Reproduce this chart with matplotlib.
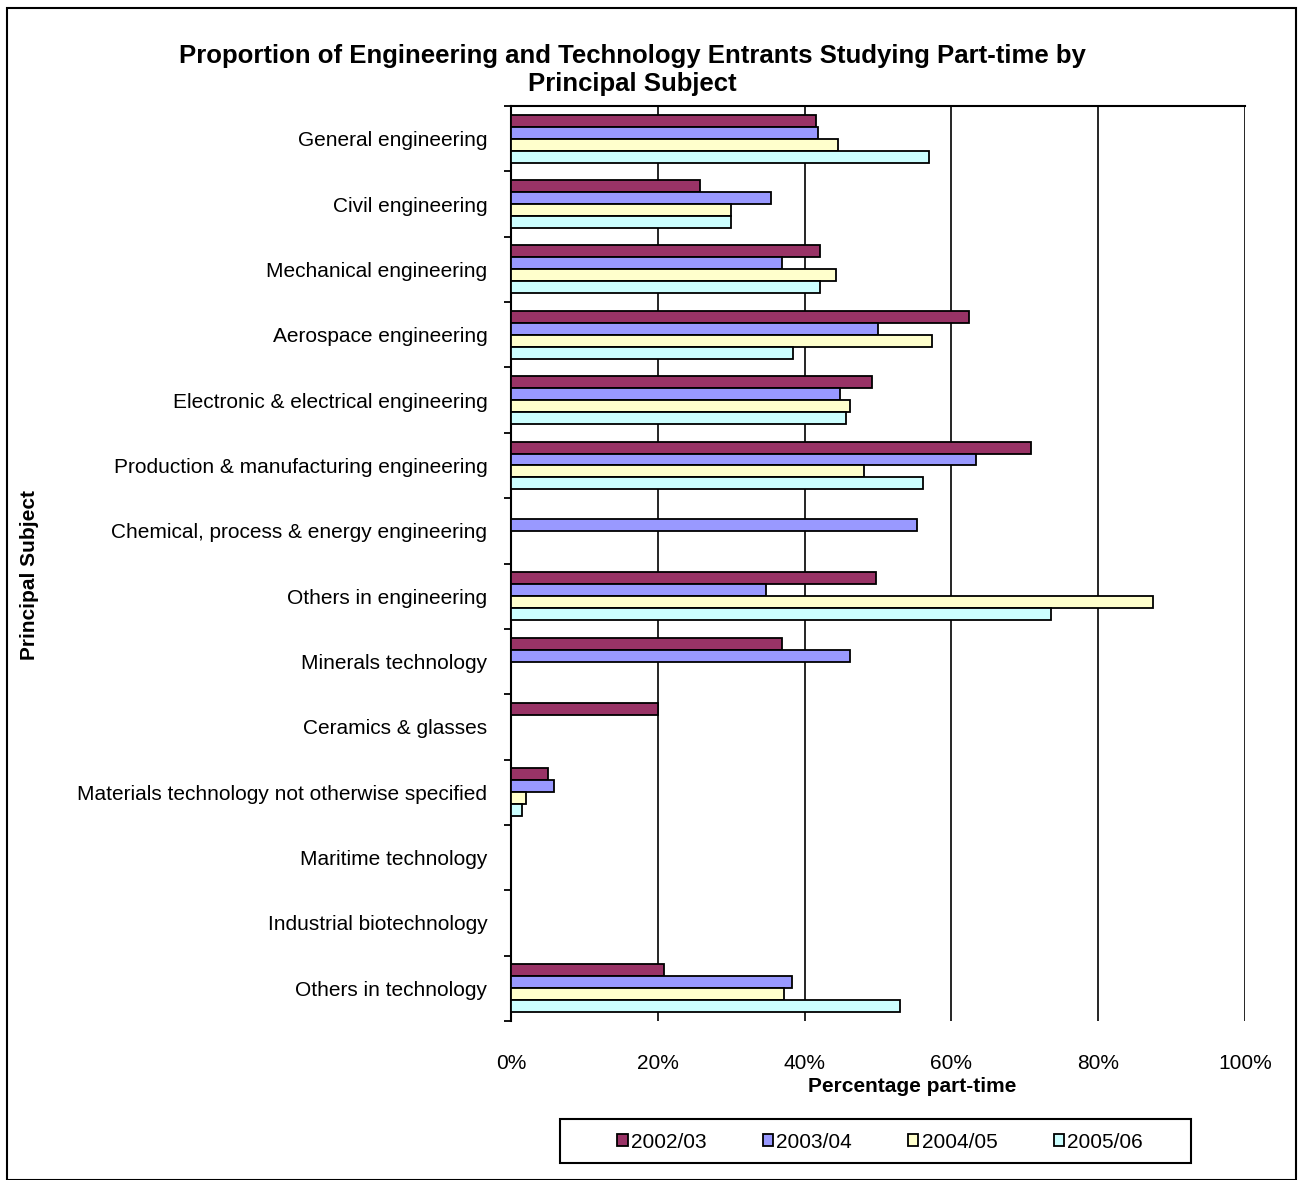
import numpy as np
import matplotlib.pyplot as plt
from matplotlib.ticker import PercentFormatter, FixedLocator
from matplotlib.patches import Rectangle

plt.rcParams['font.family'] = ['Liberation Sans', 'DejaVu Sans']

subjects = [
    "General engineering",
    "Civil engineering",
    "Mechanical engineering",
    "Aerospace engineering",
    "Electronic & electrical engineering",
    "Production & manufacturing engineering",
    "Chemical, process & energy engineering",
    "Others in engineering",
    "Minerals technology",
    "Ceramics & glasses",
    "Materials technology not otherwise specified",
    "Maritime technology",
    "Industrial biotechnology",
    "Others in technology",
]

years = ["2002/03", "2003/04", "2004/05", "2005/06"]

# proportion part-time (0-1)
y2002 = [0.416, 0.257, 0.421, 0.624, 0.492, 0.708, 0.0, 0.497, 0.369, 0.200, 0.050, 0.0, 0.0, 0.208]
y2003 = [0.418, 0.354, 0.369, 0.500, 0.448, 0.634, 0.553, 0.347, 0.462, 0.0, 0.059, 0.0, 0.0, 0.383]
y2004 = [0.445, 0.300, 0.443, 0.573, 0.462, 0.481, 0.0, 0.875, 0.0, 0.0, 0.020, 0.0, 0.0, 0.372]
y2005 = [0.570, 0.300, 0.421, 0.384, 0.456, 0.561, 0.0, 0.736, 0.0, 0.0, 0.015, 0.0, 0.0, 0.530]

series = [y2002, y2003, y2004, y2005]
colors = ["#993366", "#9999FF", "#FFFFCC", "#CCFFFF"]

W, H = 1303, 1180
fig = plt.figure(figsize=(W / 100, H / 100), dpi=100)
ax = fig.add_axes([511 / W, 1 - 1021 / H, (1245 - 511) / W, (1021 - 106) / H])

pos = np.arange(len(subjects))
bh = 0.183
for i, (vals, col) in enumerate(zip(series, colors)):
    ax.barh(pos + (i - 1.5) * bh, vals, height=bh, color=col,
            edgecolor="black", linewidth=1.3, label=years[i], zorder=3)

ax.set_xlim(0, 1)
ax.set_ylim(len(subjects) - 0.5, -0.5)
ax.set_xticks(np.arange(0, 1.01, 0.2))
ax.xaxis.set_major_formatter(PercentFormatter(1.0, decimals=0))
ax.tick_params(axis="x", length=0, pad=24, labelsize=15)
ax.grid(axis="x", color="black", linewidth=1.2, zorder=1)

ax.set_yticks(pos)
ax.set_yticklabels(subjects)
ax.yaxis.set_minor_locator(FixedLocator(np.arange(-0.5, len(subjects), 1.0)))
ax.tick_params(axis="y", which="major", length=0, pad=17, labelsize=15)
ax.tick_params(axis="y", which="minor", length=5, width=1.3, direction="out")

ax.spines["right"].set_visible(False)
ax.spines["bottom"].set_visible(False)
ax.spines["left"].set_linewidth(1.5)
ax.spines["top"].set_linewidth(1.5)

fig.text(632 / W, 1 - 70 / H,
         "Proportion of Engineering and Technology Entrants Studying Part-time by\nPrincipal Subject",
         ha="center", va="center", fontsize=18.5, fontweight="bold", linespacing=1.2)
fig.text(912 / W, 1 - 1087 / H, "Percentage part-time", ha="center", va="center",
         fontsize=15, fontweight="bold")
fig.text(30 / W, 1 - 575 / H, "Principal Subject", ha="center", va="center",
         rotation=90, fontsize=15, fontweight="bold")

# outer chart border
fig.add_artist(Rectangle((7 / W, 0), (W - 14) / W, 1 - 8 / H, transform=fig.transFigure,
                         fill=False, edgecolor="black", linewidth=1.5))

# legend box drawn separately
fig.add_artist(Rectangle((560 / W, 1 - 1163 / H), (1191 - 560) / W, (1163 - 1119) / H,
                         transform=fig.transFigure, fill=False, edgecolor="black",
                         linewidth=1.5))
leg = fig.legend(loc="center", bbox_to_anchor=(880 / W, 1 - 1142 / H), ncol=4,
                 frameon=False, fontsize=15,
                 handlelength=0.5, handleheight=0.5, handletextpad=0.15,
                 columnspacing=2.7)

fig.savefig("out.png", dpi=100)
